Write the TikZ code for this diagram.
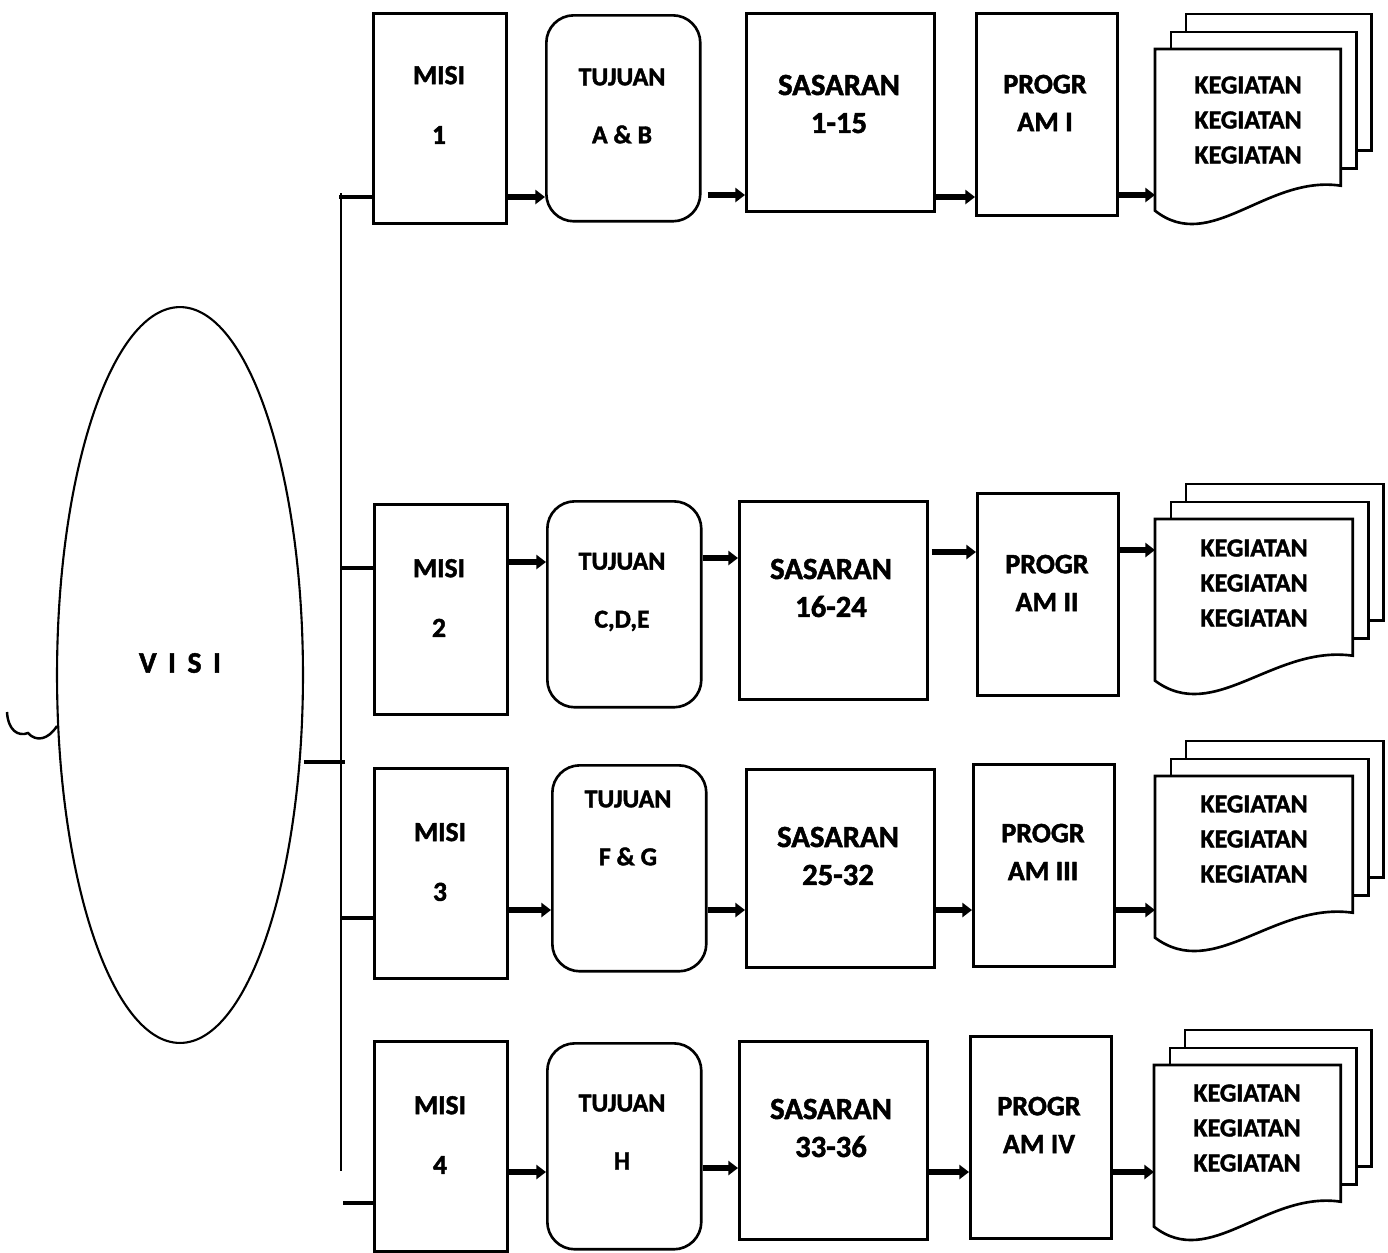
\documentclass[tikz,border=0pt]{standalone}
\usepackage{fontspec}
\setmainfont{Carlito}[BoldFeatures={FakeBold=1.6}]
\usetikzlibrary{arrows.meta,positioning,shapes.geometric,calc}

% three stacked sheets behind a named front node
\newcommand{\kegstack}[1]{%
  \draw[sheet] ($(#1.north west)+(31,-35)$) rectangle ($(#1.south east)+(31,-35)$);
  \draw[sheet] ($(#1.north west)+(16,-17)$) rectangle ($(#1.south east)+(16,-17)$);
  \draw[sheet] (#1.north west) -- (#1.north east) -- (#1.south east)
    .. controls ($(#1.south west)!0.6!(#1.south east)+(0,-11)$) and ($(#1.south west)!0.3!(#1.south east)+(0,69)$) .. ($(#1.south west)+(0,25)$) -- cycle;
}

\begin{document}
\begin{tikzpicture}[x=0.02cm,y=-0.02cm,
 bx/.style={draw=black,line width=1.5pt,anchor=north west,inner sep=0pt,fill=white},
 mis/.style={bx,minimum width=2.66cm,minimum height=4.2cm},
 tuj/.style={bx,rounded corners=0.55cm,minimum width=3.08cm,minimum height=4.12cm},
 sas/.style={bx,minimum width=3.76cm,minimum height=3.96cm},
 prg/.style={bx,minimum width=2.82cm,minimum height=4.04cm},
 keg/.style={anchor=north west,inner sep=0pt,minimum height=2.72cm},
 sheet/.style={draw=black,line width=1.5pt,fill=white},
 txt/.style={align=center,inner sep=0pt},
 tm/.style={txt,font=\bfseries\fontsize{15.7}{34}\selectfont},
 tj/.style={txt,font=\bfseries\fontsize{14.7}{33}\selectfont},
 ts/.style={txt,font=\bfseries\fontsize{17.5}{21.6}\selectfont},
 tp/.style={txt,font=\bfseries\fontsize{16}{21.6}\selectfont},
 tk/.style={txt,font=\bfseries\fontsize{14.8}{19.9}\selectfont},
 ar/.style={-{Triangle[length=5.5pt,width=8pt]},line width=3pt},
 stub/.style={line width=2.8pt},
 trunk/.style={line width=1.5pt}]
\useasboundingbox (0,0) rectangle (1388,1252);

% visi
\node[draw,ellipse,line width=1.2pt,minimum width=4.92cm,minimum height=14.72cm,inner sep=0pt] (visi) at (180,675) {};
\node[txt,font=\bfseries\fontsize{17}{20}\selectfont] (visit) at (180,663) {V\hspace{6.5pt}I\hspace{6.5pt}S\hspace{6.5pt}I};
\draw[line width=1.4pt] (7,712) .. controls (8,730) and (18,737) .. (28,733) .. controls (36,742) and (48,740) .. (57,726);

% trunk
\coordinate (ttop) at (341,193);
\coordinate (tbot) at (341,1171);
\coordinate (j0) at (345,762);
\coordinate (j1) at (339,197);
\coordinate (j2) at (341,568);
\coordinate (j3) at (341,918);
\coordinate (j4) at (343,1203);
\draw[trunk] (ttop) -- (tbot);

% row 1
\node[mis] (m1) at (372,12) {};
\node[tuj] (t1) at (545,14) {};
\node[sas] (s1) at (745,12) {};
\node[prg] (p1) at (975,12) {};
\node[keg,minimum width=3.7cm] (k1) at (1155,49) {};
\kegstack{k1}
\node[tm] (m1t) at (439,105) {MISI\\1};
\node[tj] (t1t) at (622,106) {TUJUAN\\A \& B};
\node[ts] (s1t) at (839,104) {SASARAN\\1-15};
\node[tp] (p1t) at (1045,103) {PROGR\\AM I};
\node[tk] (k1t) at (1248,120) {KEGIATAN\\KEGIATAN\\KEGIATAN};

% row 2
\node[mis] (m2) at (373,503) {};
\node[tuj] (t2) at (546,500) {};
\node[sas] (s2) at (738,500) {};
\node[prg] (p2) at (976,492) {};
\node[keg,minimum width=3.94cm] (k2) at (1155,519) {};
\kegstack{k2}
\node[tm] (m2t) at (439,598) {MISI\\2};
\node[tj] (t2t) at (622,592) {TUJUAN\\C,D,E};
\node[ts] (s2t) at (831,588) {SASARAN\\16-24};
\node[tp] (p2t) at (1047,583) {PROGR\\AM II};
\node[tk] (k2t) at (1254,583) {KEGIATAN\\KEGIATAN\\KEGIATAN};

% row 3
\node[mis] (m3) at (373,767) {};
\node[tuj] (t3) at (551,764) {};
\node[sas] (s3) at (745,768) {};
\node[prg] (p3) at (972,763) {};
\node[keg,minimum width=3.94cm] (k3) at (1155,776) {};
\kegstack{k3}
\node[tm] (m3t) at (440,862) {MISI\\3};
\node[tj] (t3t) at (628,828) {TUJUAN\\F \& G};
\node[ts] (s3t) at (838,856) {SASARAN\\25-32};
\node[tp] (p3t) at (1043,852) {PROGR\\AM III};
\node[tk] (k3t) at (1254,839) {KEGIATAN\\KEGIATAN\\KEGIATAN};

% row 4
\node[mis] (m4) at (373,1040) {};
\node[tuj] (t4) at (546,1042) {};
\node[sas] (s4) at (738,1040) {};
\node[prg] (p4) at (969,1035) {};
\node[keg,minimum width=3.72cm] (k4) at (1154,1065) {};
\kegstack{k4}
\node[tm] (m4t) at (440,1135) {MISI\\4};
\node[tj] (t4t) at (622,1132) {TUJUAN\\H};
\node[ts] (s4t) at (831,1128) {SASARAN\\33-36};
\node[tp] (p4t) at (1039,1125) {PROGR\\AM IV};
\node[tk] (k4t) at (1247,1128) {KEGIATAN\\KEGIATAN\\KEGIATAN};

% stubs
\draw[stub] (visi.east |- j0) -- (j0);
\draw[stub] (j1) -- (m1.west |- j1);
\draw[stub] (j2) -- (m2.west |- j2);
\draw[stub] (j3) -- (m3.west |- j3);
\draw[stub] (j4) -- (m4.west |- j4);

% arrows
\draw[ar] (m1.east |- 0,197) -- (t1.west |- 0,197);
\draw[ar] ([xshift=0.12cm]t1.east |- 0,195) -- (s1.west |- 0,195);
\draw[ar] (s1.east |- 0,197) -- (p1.west |- 0,197);
\draw[ar] (p1.east |- 0,195) -- (k1.west |- 0,195);
\draw[ar] (m2.east |- 0,562) -- (t2.west |- 0,562);
\draw[ar] (t2.east |- 0,558) -- (s2.west |- 0,558);
\draw[ar] ([xshift=0.06cm]s2.east |- 0,552) -- (p2.west |- 0,552);
\draw[ar] (p2.east |- 0,550) -- (k2.west |- 0,550);
\draw[ar] (m3.east |- 0,910) -- (t3.west |- 0,910);
\draw[ar] (t3.east |- 0,910) -- (s3.west |- 0,910);
\draw[ar] (s3.east |- 0,910) -- (p3.west |- 0,910);
\draw[ar] (p3.east |- 0,910) -- (k3.west |- 0,910);
\draw[ar] (m4.east |- 0,1172) -- (t4.west |- 0,1172);
\draw[ar] (t4.east |- 0,1168) -- (s4.west |- 0,1168);
\draw[ar] (s4.east |- 0,1172) -- (p4.west |- 0,1172);
\draw[ar] (p4.east |- 0,1172) -- (k4.west |- 0,1172);
\end{tikzpicture}
\end{document}
